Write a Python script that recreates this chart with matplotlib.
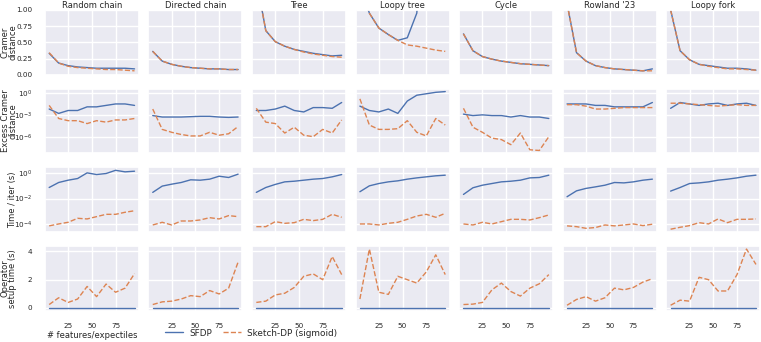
import numpy as np
import matplotlib.pyplot as plt
import seaborn as sns

sns.set_theme(style="darkgrid")
plt.rcParams['font.family'] = ['DejaVu Sans']

x = [5, 15, 25, 35, 45, 55, 65, 75, 85, 95]
envs = ["Random chain", "Directed chain", "Tree", "Loopy tree", "Cycle", "Rowland '23", "Loopy fork"]

# cramer distance
cramer_sfdp = [
    [0.33, 0.18, 0.14, 0.12, 0.11, 0.10, 0.10, 0.10, 0.10, 0.09],
    [0.36, 0.21, 0.16, 0.13, 0.11, 0.10, 0.09, 0.09, 0.08, 0.08],
    [1.48, 0.68, 0.51, 0.44, 0.39, 0.36, 0.33, 0.31, 0.29, 0.30],
    [1.40, 0.95, 0.72, 0.62, 0.53, 0.57, 0.95, 3.0, 3.5, 3.8],
    [0.63, 0.37, 0.28, 0.24, 0.21, 0.19, 0.17, 0.16, 0.15, 0.14],
    [1.10, 0.34, 0.21, 0.14, 0.11, 0.09, 0.08, 0.07, 0.06, 0.09],
    [1.00, 0.37, 0.23, 0.16, 0.14, 0.12, 0.10, 0.10, 0.09, 0.07],
]
cramer_sketch = [
    [0.34, 0.18, 0.13, 0.11, 0.10, 0.09, 0.08, 0.08, 0.07, 0.06],
    [0.36, 0.21, 0.16, 0.13, 0.11, 0.10, 0.09, 0.09, 0.08, 0.08],
    [1.48, 0.68, 0.51, 0.44, 0.39, 0.35, 0.32, 0.30, 0.28, 0.27],
    [1.40, 0.95, 0.72, 0.62, 0.53, 0.46, 0.44, 0.41, 0.38, 0.36],
    [0.63, 0.37, 0.28, 0.24, 0.21, 0.19, 0.17, 0.16, 0.15, 0.14],
    [1.10, 0.34, 0.21, 0.14, 0.11, 0.09, 0.08, 0.07, 0.06, 0.06],
    [1.00, 0.37, 0.23, 0.16, 0.13, 0.11, 0.09, 0.09, 0.08, 0.07],
]

# excess cramer distance (log10)
excess_sfdp = [
    [-2.2, -2.8, -2.4, -2.4, -1.9, -1.9, -1.7, -1.5, -1.5, -1.7],
    [-3.1, -3.3, -3.3, -3.3, -3.25, -3.2, -3.2, -3.3, -3.35, -3.3],
    [-2.4, -2.4, -2.2, -1.8, -2.4, -2.6, -2.0, -2.0, -2.1, -1.3],
    [-1.8, -2.4, -2.6, -2.2, -2.8, -1.1, -0.3, -0.1, 0.1, 0.2],
    [-2.9, -3.1, -3.0, -3.1, -3.1, -3.3, -3.1, -3.3, -3.3, -3.5],
    [-1.5, -1.5, -1.5, -1.7, -1.7, -1.9, -1.9, -1.9, -1.9, -1.3],
    [-2.1, -1.3, -1.5, -1.7, -1.5, -1.4, -1.7, -1.5, -1.4, -1.7],
]
excess_sketch = [
    [-1.7, -3.5, -3.8, -3.8, -4.2, -3.8, -4.0, -3.7, -3.7, -3.5],
    [-2.2, -5.0, -5.4, -5.7, -5.9, -5.9, -5.4, -5.8, -5.6, -4.6],
    [-2.1, -4.0, -4.2, -5.5, -4.7, -5.8, -6.0, -5.0, -5.5, -3.7],
    [-0.8, -4.4, -5.0, -5.0, -4.9, -3.8, -5.4, -5.9, -3.5, -4.4],
    [-2.1, -4.7, -5.4, -6.2, -6.4, -7.1, -5.5, -7.8, -7.9, -6.0],
    [-1.6, -1.6, -1.8, -2.2, -2.2, -2.1, -2.0, -2.0, -2.0, -2.0],
    [-1.4, -1.4, -1.5, -1.6, -1.7, -1.8, -1.7, -1.6, -1.7, -1.7],
]

# time per iteration (log10 s)
time_sfdp = [
    [-1.14, -0.75, -0.57, -0.44, 0.0, -0.13, -0.05, 0.2, 0.08, 0.13],
    [-1.52, -1.03, -0.88, -0.75, -0.54, -0.57, -0.49, -0.26, -0.36, -0.10],
    [-1.52, -1.14, -0.90, -0.70, -0.65, -0.57, -0.49, -0.44, -0.31, -0.13],
    [-1.47, -1.01, -0.83, -0.70, -0.62, -0.49, -0.39, -0.31, -0.23, -0.18],
    [-1.68, -1.16, -0.96, -0.83, -0.70, -0.65, -0.57, -0.39, -0.36, -0.18],
    [-1.86, -1.40, -1.21, -1.09, -0.96, -0.75, -0.78, -0.70, -0.57, -0.49],
    [-1.42, -1.14, -0.83, -0.78, -0.70, -0.57, -0.49, -0.39, -0.26, -0.18],
]
time_sketch = [
    [-4.13, -3.98, -3.85, -3.54, -3.59, -3.41, -3.23, -3.23, -3.07, -2.95],
    [-4.06, -3.85, -4.06, -3.75, -3.75, -3.67, -3.49, -3.59, -3.33, -3.41],
    [-4.19, -4.19, -3.80, -3.93, -3.88, -3.62, -3.72, -3.62, -3.23, -3.46],
    [-3.98, -3.98, -4.06, -3.93, -3.85, -3.62, -3.36, -3.23, -3.46, -3.15],
    [-3.98, -4.06, -3.85, -3.98, -3.80, -3.62, -3.62, -3.67, -3.49, -3.28],
    [-4.13, -4.19, -4.32, -4.26, -4.06, -4.13, -4.06, -3.98, -4.11, -4.00],
    [-4.39, -4.24, -4.11, -3.88, -3.98, -3.59, -3.88, -3.62, -3.62, -3.59],
]

# operator setup time (s)
setup_sfdp = [[0.0] * 10 for _ in envs]
setup_sketch = [
    [0.24, 0.72, 0.39, 0.63, 1.52, 0.80, 1.69, 1.11, 1.40, 2.43],
    [0.24, 0.43, 0.48, 0.63, 0.87, 0.80, 1.23, 0.99, 1.40, 3.25],
    [0.39, 0.48, 0.92, 1.04, 1.45, 2.24, 2.41, 2.00, 3.64, 2.36],
    [0.63, 4.17, 1.11, 0.96, 2.24, 2.00, 1.76, 2.55, 3.76, 2.36],
    [0.24, 0.27, 0.39, 1.28, 1.76, 1.16, 0.84, 1.40, 1.71, 2.36],
    [0.19, 0.60, 0.80, 0.48, 0.72, 1.40, 1.28, 1.45, 1.83, 2.07],
    [0.19, 0.55, 0.48, 2.17, 2.00, 1.20, 1.20, 2.36, 4.17, 3.08],
]

rows = [
    (cramer_sfdp, cramer_sketch, False, "Cramer\ndistance"),
    (excess_sfdp, excess_sketch, True, "Excess Cramer\ndistance"),
    (time_sfdp, time_sketch, True, "Time / iter (s)"),
    (setup_sfdp, setup_sketch, False, "Operator\nsetup time (s)"),
]

blue, orange = sns.color_palette("deep")[0], sns.color_palette("deep")[1]
fs_title, fs_lab, fs_tick, fs_leg = 6.0, 6.0, 5.2, 6.4

fig, axes = plt.subplots(4, 7, figsize=(7.61, 3.42), dpi=100, sharex=True, sharey="row")
fig.subplots_adjust(left=0.059, right=0.999, top=0.971, bottom=0.091, wspace=0.103, hspace=0.215)

for r, (sf, sk, logy, ylab) in enumerate(rows):
    for c in range(7):
        ax = axes[r, c]
        a = np.array(sf[c])
        b = np.array(sk[c])
        if logy:
            a, b = 10 ** a, 10 ** b
        ax.plot(x, a, '-', color=blue, lw=1, label="SFDP")
        ax.plot(x, b, '--', color=orange, lw=1, label="Sketch-DP (sigmoid)")
        if logy:
            ax.set_yscale("log")
        ax.tick_params(labelsize=fs_tick, pad=3)
        if r == 0:
            ax.set_title(envs[c], fontsize=fs_title, pad=1.5)
        if c == 0:
            ax.set_ylabel(ylab, fontsize=fs_lab, linespacing=0.8)
            ax.yaxis.set_label_coords(-0.295, 0.5)

axes[0, 0].set_ylim(0, 1)
axes[0, 0].set_yticks([0, 0.25, 0.5, 0.75, 1.0])
axes[1, 0].set_yticks([1e-6, 1e-3, 1e0])
axes[2, 0].set_yticks([1e-4, 1e-2, 1e0])
axes[3, 0].set_yticks([0, 2, 4])
axes[3, 0].set_xticks([25, 50, 75])
for ax in axes[1:3].flat:
    ax.yaxis.set_minor_locator(plt.NullLocator())

axes[3, 0].set_xlabel("# features/expectiles", fontsize=fs_lab, labelpad=1.5)

h, l = axes[0, 0].get_legend_handles_labels()
fig.legend(h, l, loc="center", bbox_to_anchor=(0.33, 0.026), ncol=2, frameon=False,
           fontsize=fs_leg, handlelength=2.0, handletextpad=0.7, columnspacing=1.2,
           borderpad=0.1)

fig.savefig("out.png", dpi=100)
